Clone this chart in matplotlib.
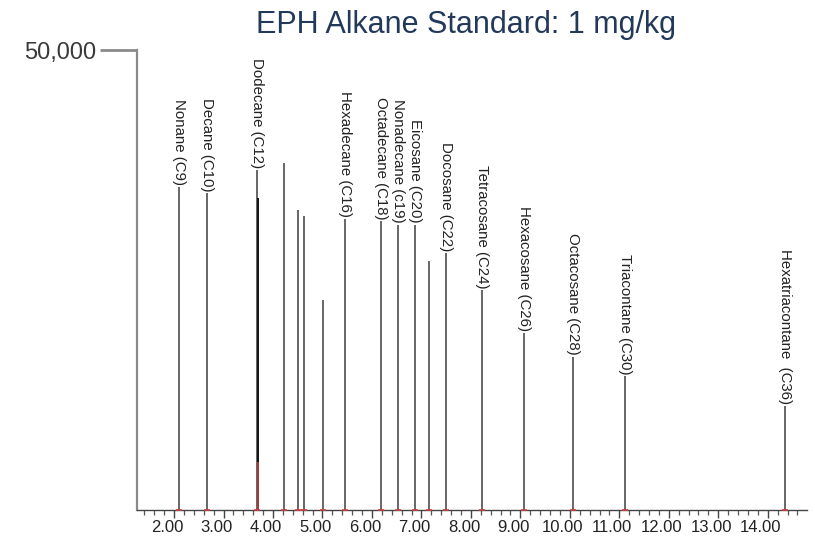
import numpy as np
import matplotlib.pyplot as plt
from matplotlib.ticker import MultipleLocator, FormatStrFormatter
from matplotlib.transforms import ScaledTranslation

plt.rcParams["font.family"] = ["Liberation Sans", "DejaVu Sans"]

# -------------------------------
# DATA (retention time in min, peak height)
# -------------------------------
peak_rt = [2.10, 2.67, 3.68, 4.22, 4.51, 4.63, 5.01, 5.45, 6.18, 6.53,
           6.87, 7.15, 7.49, 8.22, 9.07, 10.06, 11.11, 14.34]
peak_height = [35100, 34450, 36950, 37700, 32600, 31950, 22850, 31600, 31400,
               31000, 31000, 27050, 27950, 23900, 19250, 16650, 14550, 11300]
peak_label = ["Nonane (C9)", "Decane (C10)", "Dodecane (C12)", "", "", "", "",
              "Hexadecane (C16)", "Octadecane (C18)", "Nonadecane (c19)",
              "Eicosane (C20)", "", "Docosane (C22)", "Tetracosane (C24)",
              "Hexacosane (C26)", "Octacosane (C28)", "Triacontane (C30)",
              "Hexatriacontane  (C36)"]

# second (overlaid) trace on dodecane
c12_rt = 3.69
c12_inner = 33900
c12_red = 5200

title = "EPH Alkane Standard: 1 mg/kg"

# -------------------------------
# FIGURE
# -------------------------------
fig = plt.figure(figsize=(8.15, 5.39), dpi=100)
ax = fig.add_axes([0.168, 0.0538, 0.822, 0.853])

ax.vlines(peak_rt, 0, peak_height, color="#5a5a5a", linewidth=1.3)
ax.vlines([c12_rt], 0, [c12_inner], color="#111111", linewidth=1.4)
ax.vlines([c12_rt], 0, [c12_red], color="#c04040", linewidth=1.2)

# integration marks at the baseline
for rt in peak_rt:
    ax.plot([rt - 0.06, rt + 0.06], [0, 0], color="#d04040",
            linewidth=1.2, solid_capstyle="butt", zorder=4, clip_on=False)

for rt, h, lab in zip(peak_rt, peak_height, peak_label):
    if lab:
        ax.annotate(lab, (rt, h), xytext=(0, 1.5), textcoords="offset points",
                    rotation=-90, ha="center", va="bottom",
                    fontsize=10.8, color="#222222")

ax.set_xlim(1.25, 14.79)
ax.set_ylim(0, 50000)

ax.spines["top"].set_visible(False)
ax.spines["right"].set_visible(False)
ax.spines["left"].set_color("#8a8a8a")
ax.spines["left"].set_linewidth(1.6)
ax.spines["bottom"].set_color("#444444")
ax.spines["bottom"].set_linewidth(1.0)

ax.xaxis.set_major_locator(MultipleLocator(1.0))
ax.xaxis.set_minor_locator(MultipleLocator(0.2))
ax.xaxis.set_major_formatter(FormatStrFormatter("%.2f"))
ax.set_xticks(np.arange(2, 15, 1))
ax.tick_params(axis="x", which="major", length=6, width=1.0, color="#444444",
               labelsize=12, labelcolor="#222222", pad=1)
ax.tick_params(axis="x", which="minor", length=3.5, width=0.9, color="#555555")

ax.set_yticks([50000])
ax.set_yticklabels(["50,000"])
ax.tick_params(axis="y", length=27, width=2.0, color="#8a8a8a",
               labelsize=17, labelcolor="#3a3a3a", pad=2)

shift = ScaledTranslation(-7 / 100, 0, fig.dpi_scale_trans)
for lab in ax.get_xticklabels():
    lab.set_transform(lab.get_transform() + shift)

fig.text(0.572, 0.939, title, ha="center", va="baseline",
         fontsize=22, color="#23395a")

plt.savefig("out.png", dpi=100)
